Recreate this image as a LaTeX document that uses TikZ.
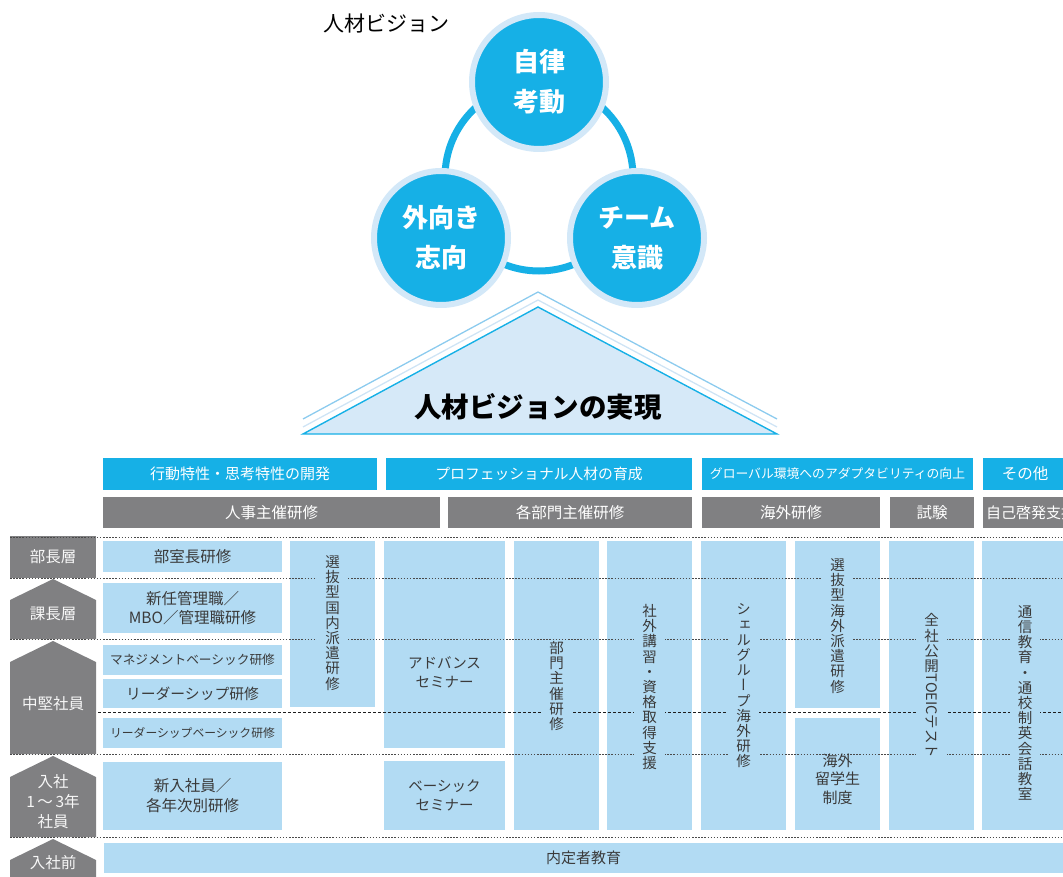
\documentclass[tikz,border=0pt]{standalone}
\usepackage{fontspec}
\usepackage{graphicx}
\setmainfont{Noto Sans CJK JP}
\newfontfamily\vfont{Noto Sans CJK JP}[RawFeature=+vert]
\definecolor{cyanA}{HTML}{16B0E6}
\definecolor{ringlight}{HTML}{D3E8F8}
\definecolor{trifill}{HTML}{D6E9F8}
\definecolor{chevA}{HTML}{8CCBEE}
\definecolor{chevB}{HTML}{CFE4F5}
\definecolor{boxblue}{HTML}{B2DBF3}
\definecolor{grayb}{HTML}{808082}
\definecolor{txt}{HTML}{3A3A3A}
\definecolor{dotgray}{HTML}{4A4A4A}
\definecolor{dashgray}{HTML}{1E1E1E}
\begin{document}
\begin{tikzpicture}[x=1pt,y=-1pt,
  fs/.style={font=\fontsize{#1}{19}\selectfont},
  hdr/.style={fill=cyanA, text=white, inner sep=0pt, minimum height=32pt},
  gbar/.style={fill=grayb, text=white, inner sep=0pt, minimum height=31pt},
  box/.style={fill=boxblue, text=txt, align=center, inner sep=0pt},
  btxt/.style={text=txt, align=center, inner sep=0pt},
  vtxt/.style={fill=boxblue, text=txt, font=\vfont\fontsize{14.5}{15.2}\selectfont, align=center, inner xsep=8pt, inner ysep=1pt},
  lvltxt/.style={text=white!94!gray, align=center, font=\fontsize{15.5}{20}\selectfont},
  dotl/.style={draw=dotgray, line width=1pt, dash pattern=on 1.5pt off 1.6pt},
  dashl/.style={draw=dashgray, line width=1pt, dash pattern=on 3pt off 2pt},
  circ/.style={circle, fill=cyanA, draw=ringlight, line width=6pt, minimum size=134pt, inner sep=0pt, text=white, align=center, font=\bfseries\fontsize{26}{40}\selectfont}
]
\useasboundingbox (0,0) rectangle (1063,877);

% ---- vision circles ----
\node[font=\fontsize{21}{24}\selectfont, text=black] (vis) at (386,24) {人材ビジョン};
\draw[cyanA, line width=7pt] (539,177) circle (94pt);
\node[circ] (c1) at (539,82) {自律\\考動};
\node[circ] (c2) at (441,238) {外向き\\志向};
\node[circ] (c3) at (637,238) {チーム\\意識};

% ---- triangle ----
\draw[chevA, line width=1.3pt] (303,419) -- (538,292) -- (777,419);
\draw[chevB, line width=1.3pt] (303,427) -- (538,300) -- (777,427);
\filldraw[fill=trifill, draw=cyanA, line width=1.4pt] (303,434) -- (538,307) -- (777,434) -- cycle;
\node[font=\bfseries\fontsize{27.5}{30}\selectfont, text=black] (tt) at (538,407) {人材ビジョンの実現};

% ---- headers ----
\node[hdr, fs=15, minimum width=274pt] (h1) at (240,474) {行動特性・思考特性の開発};
\node[hdr, fs=14.8, minimum width=306pt] (h2) at (539,474) {プロフェッショナル人材の育成};
\node[hdr, fs=12.8, minimum width=271pt] (h3) at (837.5,474) {グローバル環境へのアダプタビリティの向上};
\node[hdr, fs=15.5, minimum width=84pt] (h4) at (1025,474) {その他};

\node[gbar, fs=15.5, minimum width=337pt] (g1) at (271.5,512.5) {人事主催研修};
\node[gbar, fs=15.5, minimum width=244pt] (g2) at (570,512.5) {各部門主催研修};
\node[gbar, fs=15.5, minimum width=178pt] (g3) at (791,512.5) {海外研修};
\node[gbar, fs=15.5, minimum width=84pt] (g4) at (932,512.5) {試験};
\node[gbar, fs=15, minimum width=96pt] (g5) at (1031,512.5) {自己啓発支援};

% ---- level column ----
\fill[grayb] (10,536) rectangle (96,578);
\fill[grayb] (53,579) -- (96,600) -- (96,639) -- (10,639) -- (10,600) -- cycle;
\fill[grayb] (53,641) -- (96,662) -- (96,754) -- (10,754) -- (10,662) -- cycle;
\fill[grayb] (53,756) -- (96,777) -- (96,837) -- (10,837) -- (10,777) -- cycle;
\fill[grayb] (53,839) -- (96,860) -- (96,880) -- (10,880) -- (10,860) -- cycle;
\node[lvltxt] (L1) at (53,557) {部長層};
\node[lvltxt] (L2) at (53,614) {課長層};
\node[lvltxt] (L3) at (53,704) {中堅社員};
\node[lvltxt] (L4) at (53,802) {入社\\1\,～\,3年\\社員};
\node[lvltxt] (L5) at (53,863) {入社前};

% ---- column A boxes ----
\node[box, fs=15.5, minimum width=179pt, minimum height=31pt] (a1) at (192.5,556.5) {部室長研修};
\node[box, minimum width=179pt, minimum height=50pt, font=\fontsize{15.5}{18.5}\selectfont] (a2) at (192.5,608) {新任管理職／\\MBO／管理職研修};
\node[box, fs=12.7, minimum width=179pt, minimum height=30pt] (a3) at (192.5,660) {マネジメントベーシック研修};
\node[box, fs=14.8, minimum width=179pt, minimum height=29pt] (a4) at (192.5,693.5) {リーダーシップ研修};
\node[box, fs=11.8, minimum width=179pt, minimum height=30pt] (a5) at (192.5,733) {リーダーシップベーシック研修};
\node[box, minimum width=179pt, minimum height=68pt, font=\fontsize{15.5}{20}\selectfont] (a6) at (192.5,796) {新入社員／\\各年次別研修};
\node[box, fs=15, minimum width=959pt, minimum height=30pt] (a7) at (583.5,858) {内定者教育};

% ---- other column boxes ----
\node[box, minimum width=85pt, minimum height=166pt] (cB) at (332.5,624) {};
\node[box, minimum width=121pt, minimum height=207pt] (cC1) at (444.5,644.5) {};
\node[box, minimum width=121pt, minimum height=69pt, font=\fontsize{14.5}{19}\selectfont] (cC2) at (444.5,795.5) {ベーシック\\セミナー};
\node[box, minimum width=85pt, minimum height=289pt] (cD) at (556.5,685.5) {};
\node[box, minimum width=85pt, minimum height=289pt] (cE) at (649.5,685.5) {};
\node[box, minimum width=85pt, minimum height=289pt] (cF) at (743.5,685.5) {};
\node[box, minimum width=85pt, minimum height=167pt] (cG1) at (837.5,624.5) {};
\node[box, minimum width=85pt, minimum height=112pt] (cG2) at (837.5,774) {};
\node[box, minimum width=85pt, minimum height=289pt] (cH) at (931.5,685.5) {};
\node[box, minimum width=85pt, minimum height=289pt] (cI) at (1024.5,685.5) {};

% ---- separator lines ----
\draw[dotl] (10,537) -- (1063,537);
\draw[dotl] (10,578) -- (1063,578);
\draw[dotl] (10,639) -- (1063,639);
\draw[dashl] (98,712.5) -- (1063,712.5);
\draw[dotl] (10,754.5) -- (1063,754.5);
\draw[dotl] (10,837) -- (1063,837);

% ---- texts on top ----
\node[btxt, font=\fontsize{14.5}{19}\selectfont] (tC1) at (444.5,672.5) {アドバンス\\セミナー};
\node[btxt, font=\fontsize{15}{18.5}\selectfont] (tG2) at (837.5,779) {海外\\留学生\\制度};
\node[vtxt] (tB) at (332.5,623) {選\\抜\\型\\国\\内\\派\\遣\\研\\修};
\node[vtxt] (tD) at (556.5,686) {部\\門\\主\\催\\研\\修};
\node[vtxt] (tE) at (649.5,687) {社\\外\\講\\習\\・\\資\\格\\取\\得\\支\\援};
\node[vtxt] (tF) at (743.5,686) {シ\\ェ\\ル\\グ\\ル\\ー\\プ\\海\\外\\研\\修};
\node[vtxt] (tG) at (837.5,626) {選\\抜\\型\\海\\外\\派\\遣\\研\\修};
\node[vtxt] (tH) at (931.5,686) {全\\社\\公\\開\\\rotatebox[origin=c]{-90}{\normalfont\fontsize{14.5}{15}\selectfont TOEICテスト}};
\node[vtxt] (tI) at (1025,703) {通\\信\\教\\育\\・\\通\\校\\制\\英\\会\\話\\教\\室};
\end{tikzpicture}
\end{document}
